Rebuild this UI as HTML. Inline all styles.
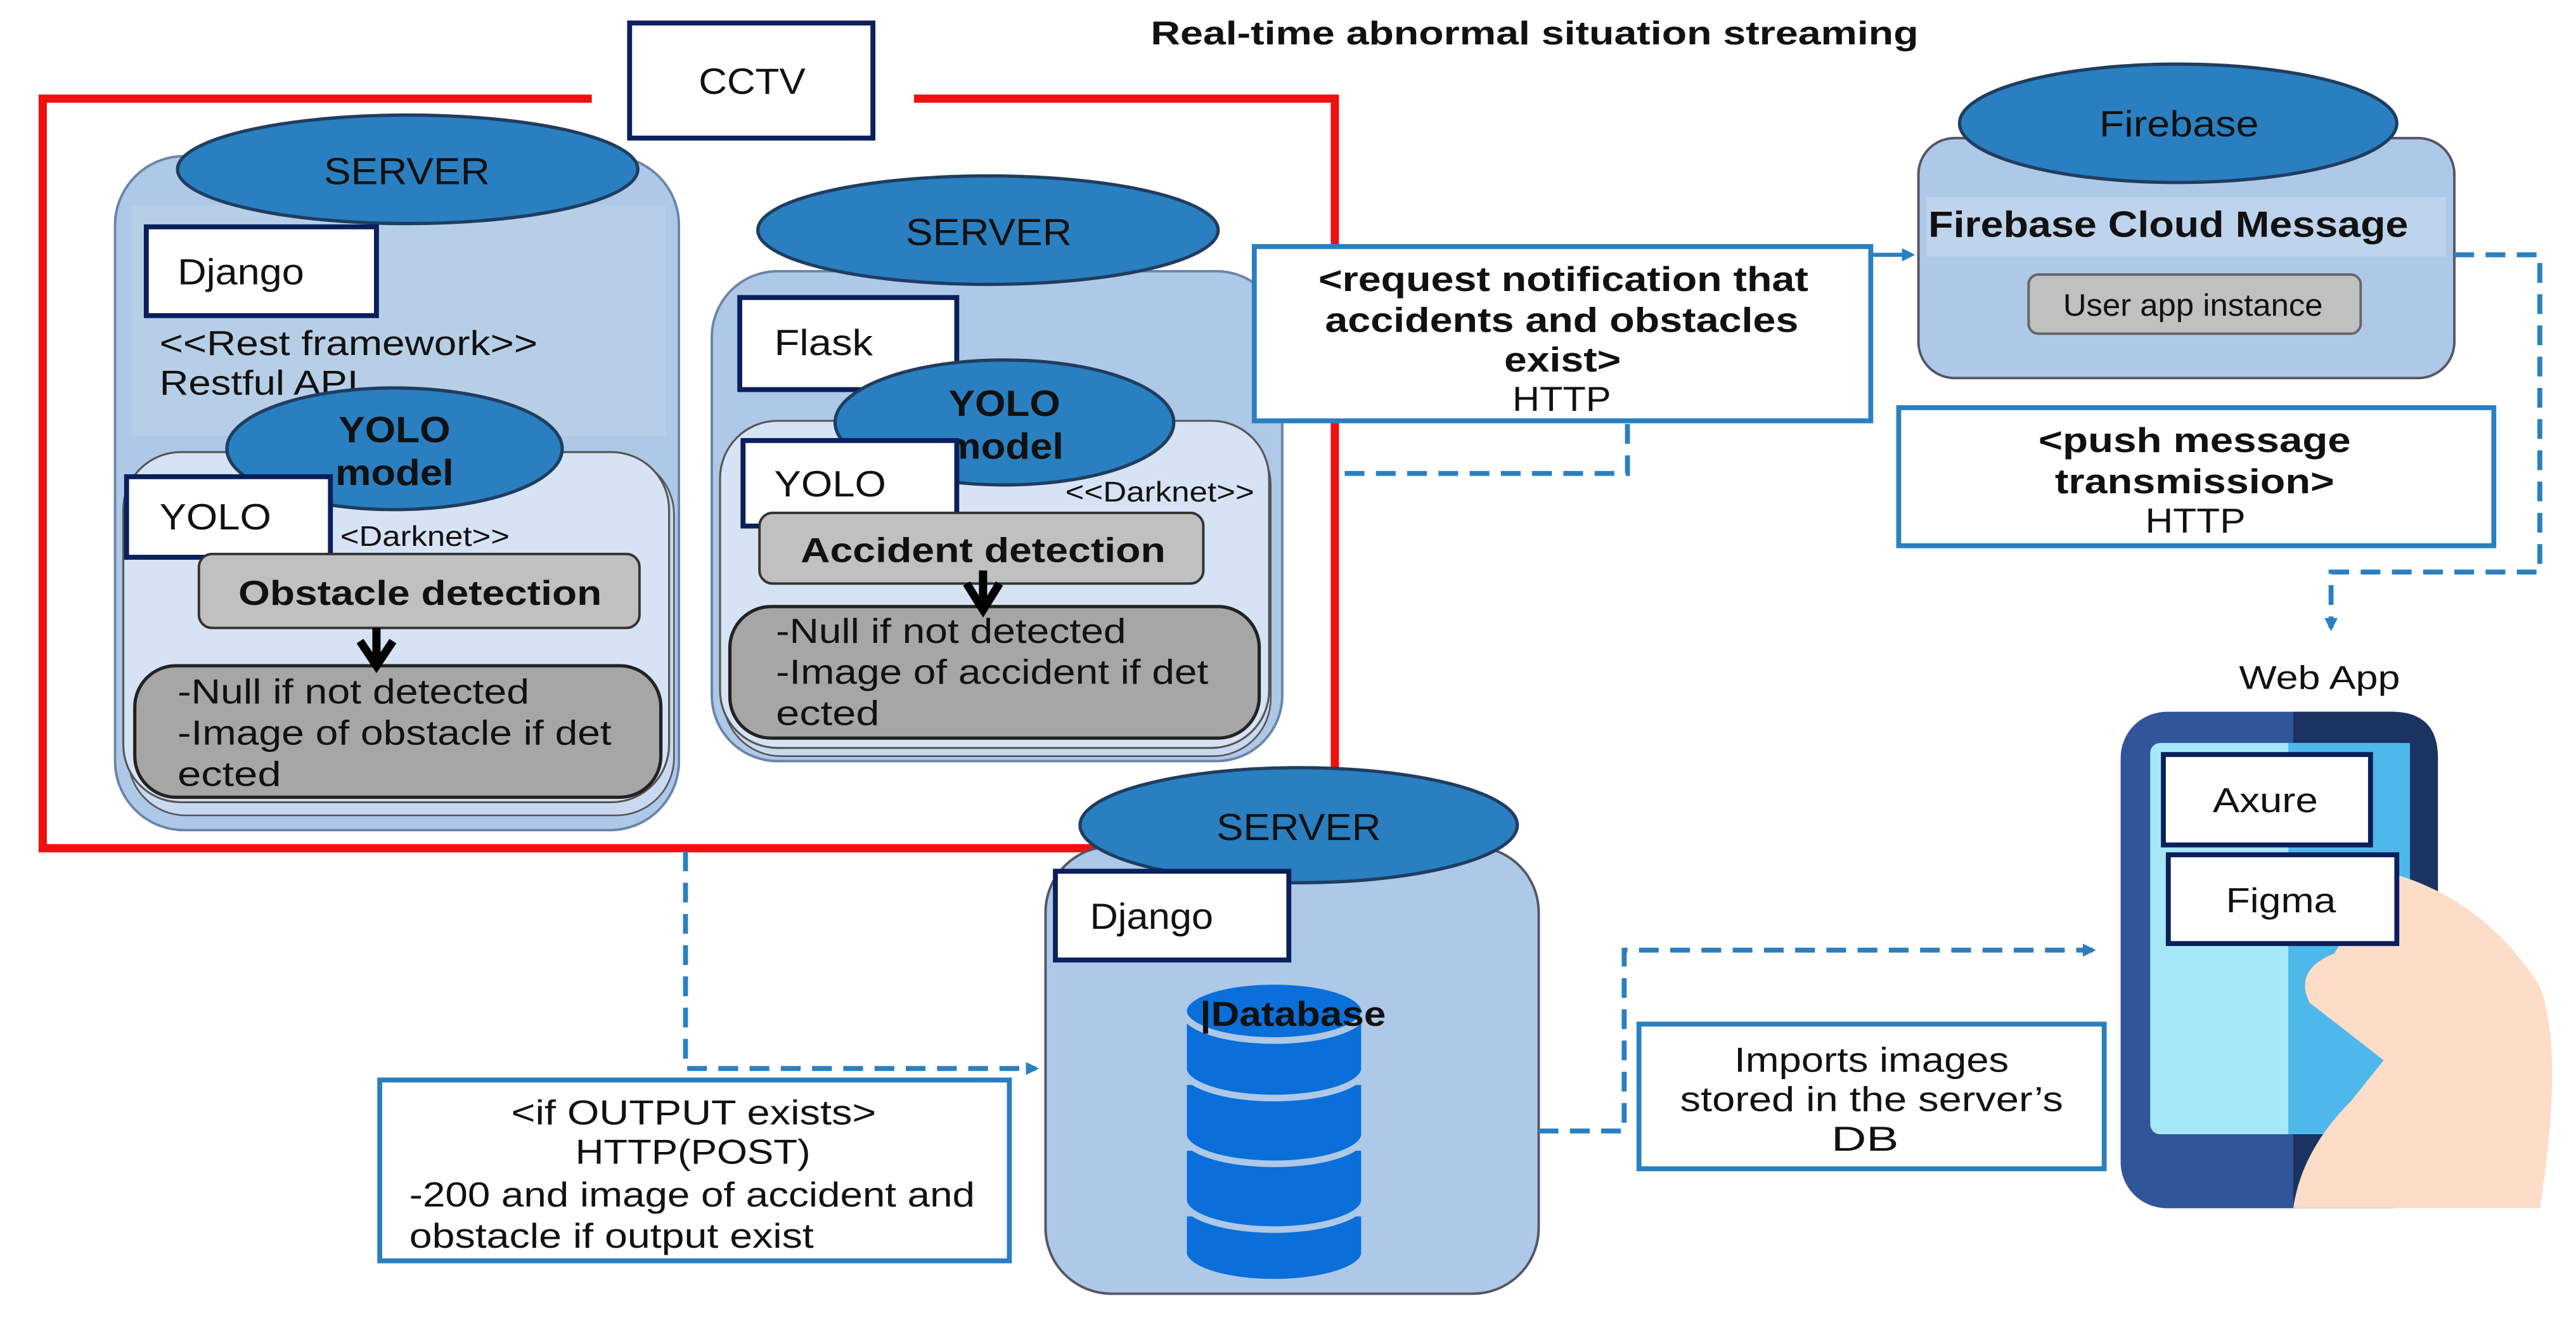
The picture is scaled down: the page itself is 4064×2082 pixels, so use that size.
<!DOCTYPE html>
<html><head><meta charset="utf-8"><style>
html,body{margin:0;padding:0;background:#fff;}
svg{display:block;}
text{font-family:"Liberation Sans",sans-serif;fill:#111;}
</style></head><body>
<svg width="4064" height="2082" viewBox="0 0 1567 803" preserveAspectRatio="none" xmlns="http://www.w3.org/2000/svg">
<defs>
<marker id="ah" markerWidth="8" markerHeight="8" refX="6" refY="4" orient="auto" markerUnits="userSpaceOnUse"><path d="M0,0 L8,4 L0,8 z" fill="#2a7fc0"/></marker>
</defs>
<rect width="1567" height="803" fill="#fff"/>
<text x="700" y="27" font-size="20" font-weight="bold" textLength="467" lengthAdjust="spacingAndGlyphs">Real-time abnormal situation streaming</text>

<!-- red frame -->
<path d="M360,60 H26 V516 H812 V60 H556" fill="none" stroke="#f01010" stroke-width="5"/>
<rect x="383" y="14" width="148" height="70" fill="#fff" stroke="#0a1f5c" stroke-width="3"/>
<text x="425" y="57" font-size="22" textLength="65" lengthAdjust="spacingAndGlyphs">CCTV</text>

<!-- left server -->
<rect x="70" y="95" width="343" height="410" rx="42" fill="#aec8e8" stroke="#6b84a8" stroke-width="1.5"/>
<rect x="80" y="125" width="325" height="140" fill="#b6cfe6"/>
<ellipse cx="248" cy="103" rx="140" ry="33" fill="#2a7fc0" stroke="#1f3d60" stroke-width="2"/>
<text x="197" y="112" font-size="23" textLength="101" lengthAdjust="spacingAndGlyphs">SERVER</text>
<rect x="89" y="138" width="140" height="54" fill="#fff" stroke="#0a1f5c" stroke-width="3"/>
<text x="108" y="173" font-size="22" textLength="77" lengthAdjust="spacingAndGlyphs">Django</text>
<text x="97" y="216" font-size="21" textLength="230" lengthAdjust="spacingAndGlyphs">&lt;&lt;Rest framework&gt;&gt;</text>
<text x="97" y="240" font-size="21" textLength="121" lengthAdjust="spacingAndGlyphs">Restful API</text>
<rect x="78" y="278" width="332" height="218" rx="35" fill="#c9daf0" stroke="#555" stroke-width="1"/>
<rect x="75" y="275" width="332" height="213" rx="35" fill="#d6e3f4" stroke="#555" stroke-width="1.2"/>
<ellipse cx="240" cy="273" rx="102" ry="37" fill="#2a7fc0" stroke="#1f3d60" stroke-width="2"/>
<text x="240" y="269" font-size="22" font-weight="bold" text-anchor="middle" textLength="68" lengthAdjust="spacingAndGlyphs">YOLO</text>
<text x="240" y="295" font-size="22" font-weight="bold" text-anchor="middle" textLength="72" lengthAdjust="spacingAndGlyphs">model</text>
<rect x="77" y="290" width="124" height="49" fill="#fff" stroke="#0a1f5c" stroke-width="3"/>
<text x="97" y="322" font-size="22" textLength="68" lengthAdjust="spacingAndGlyphs">YOLO</text>
<text x="207" y="332" font-size="17" textLength="103" lengthAdjust="spacingAndGlyphs">&lt;Darknet&gt;&gt;</text>
<rect x="121" y="337" width="268" height="45" rx="8" fill="#c0c0c0" stroke="#333" stroke-width="1.5"/>
<text x="145" y="368" font-size="21" font-weight="bold" textLength="221" lengthAdjust="spacingAndGlyphs">Obstacle detection</text>
<rect x="82" y="405" width="320" height="80" rx="25" fill="#a6a6a6" stroke="#222" stroke-width="2"/>
<path d="M229,382 V404 M219,390 L229,405 L239,390" stroke="#000" stroke-width="5" fill="none"/>
<text x="108" y="428" font-size="21" textLength="214" lengthAdjust="spacingAndGlyphs">-Null  if not detected</text>
<text x="108" y="453" font-size="21" textLength="264" lengthAdjust="spacingAndGlyphs">-Image of obstacle if det</text>
<text x="108" y="478" font-size="21" textLength="63" lengthAdjust="spacingAndGlyphs">ected</text>

<!-- middle server -->
<rect x="433" y="165" width="347" height="298" rx="40" fill="#aec8e8" stroke="#6b84a8" stroke-width="1.5"/>
<ellipse cx="601" cy="140" rx="140" ry="33" fill="#2a7fc0" stroke="#1f3d60" stroke-width="2"/>
<text x="551" y="149" font-size="23" textLength="101" lengthAdjust="spacingAndGlyphs">SERVER</text>
<rect x="450" y="181" width="132" height="56" fill="#fff" stroke="#0a1f5c" stroke-width="3"/>
<text x="471" y="216" font-size="22" textLength="60" lengthAdjust="spacingAndGlyphs">Flask</text>
<rect x="440" y="260" width="333" height="200" rx="35" fill="#c9daf0" stroke="#555" stroke-width="1"/>
<rect x="438" y="256" width="334" height="199" rx="35" fill="#d6e3f4" stroke="#555" stroke-width="1.2"/>
<ellipse cx="611" cy="257" rx="103" ry="38" fill="#2a7fc0" stroke="#1f3d60" stroke-width="2"/>
<text x="611" y="253" font-size="22" font-weight="bold" text-anchor="middle" textLength="68" lengthAdjust="spacingAndGlyphs">YOLO</text>
<text x="611" y="279" font-size="22" font-weight="bold" text-anchor="middle" textLength="72" lengthAdjust="spacingAndGlyphs">model</text>
<rect x="452" y="268" width="130" height="52" fill="#fff" stroke="#0a1f5c" stroke-width="3"/>
<text x="471" y="302" font-size="22" textLength="68" lengthAdjust="spacingAndGlyphs">YOLO</text>
<text x="648" y="305" font-size="17" textLength="115" lengthAdjust="spacingAndGlyphs">&lt;&lt;Darknet&gt;&gt;</text>
<rect x="462" y="312" width="270" height="43" rx="8" fill="#c0c0c0" stroke="#333" stroke-width="1.5"/>
<text x="487" y="342" font-size="21" font-weight="bold" textLength="222" lengthAdjust="spacingAndGlyphs">Accident detection</text>
<rect x="444" y="369" width="322" height="80" rx="25" fill="#a6a6a6" stroke="#222" stroke-width="2"/>
<path d="M598,347 V370 M588,355 L598,371 L608,355" stroke="#000" stroke-width="5" fill="none"/>
<text x="472" y="391" font-size="21" textLength="213" lengthAdjust="spacingAndGlyphs">-Null  if not detected</text>
<text x="472" y="416" font-size="21" textLength="263" lengthAdjust="spacingAndGlyphs">-Image of accident if det</text>
<text x="472" y="441" font-size="21" textLength="63" lengthAdjust="spacingAndGlyphs">ected</text>

<!-- request box -->
<rect x="763" y="150" width="375" height="106" fill="#fff" stroke="#2a7fc0" stroke-width="3"/>
<text x="802" y="177" font-size="21" font-weight="bold" textLength="298" lengthAdjust="spacingAndGlyphs">&lt;request notification that</text>
<text x="806" y="202" font-size="21" font-weight="bold" textLength="288" lengthAdjust="spacingAndGlyphs">accidents and obstacles</text>
<text x="915" y="226" font-size="21" font-weight="bold" textLength="71" lengthAdjust="spacingAndGlyphs">exist&gt;</text>
<text x="920" y="250" font-size="21" textLength="60" lengthAdjust="spacingAndGlyphs">HTTP</text>
<path d="M990,258 V288 H813" fill="none" stroke="#2a7fc0" stroke-width="3" stroke-dasharray="12,7"/>
<path d="M1138,155 H1163" stroke="#2a7fc0" stroke-width="2.5" marker-end="url(#ah)"/>

<!-- firebase -->
<rect x="1167" y="84" width="326" height="146" rx="22" fill="#aec8e8" stroke="#556" stroke-width="1.5"/>
<rect x="1172" y="120" width="316" height="36" fill="#bed4ec"/>
<ellipse cx="1325" cy="75" rx="133" ry="36" fill="#2a7fc0" stroke="#1f3d60" stroke-width="2"/>
<text x="1277" y="83" font-size="22" textLength="97" lengthAdjust="spacingAndGlyphs">Firebase</text>
<text x="1173" y="144" font-size="22" font-weight="bold" textLength="292" lengthAdjust="spacingAndGlyphs">Firebase Cloud Message</text>
<rect x="1234" y="167" width="202" height="36" rx="6" fill="#c0c0c0" stroke="#666" stroke-width="1.5"/>
<text x="1255" y="192" font-size="19" fill="#333" textLength="158" lengthAdjust="spacingAndGlyphs">User app instance</text>
<path d="M1493,155 H1545 V348 H1418 V382" fill="none" stroke="#2a7fc0" stroke-width="3" stroke-dasharray="12,7" marker-end="url(#ah)"/>
<rect x="1155" y="248" width="362" height="84" fill="#fff" stroke="#2a7fc0" stroke-width="3"/>
<text x="1240" y="275" font-size="21" font-weight="bold" textLength="190" lengthAdjust="spacingAndGlyphs">&lt;push message</text>
<text x="1250" y="300" font-size="21" font-weight="bold" textLength="170" lengthAdjust="spacingAndGlyphs">transmission&gt;</text>
<text x="1305" y="324" font-size="21" textLength="61" lengthAdjust="spacingAndGlyphs">HTTP</text>

<!-- web app -->
<text x="1362" y="419" font-size="20" textLength="98" lengthAdjust="spacingAndGlyphs">Web App</text>
<rect x="1290" y="433" width="193" height="302" rx="28" fill="#30559a"/>
<path d="M1395,433 H1455 Q1483,433 1483,461 V707 Q1483,735 1455,735 H1395 Z" fill="#1b3360"/>
<rect x="1308" y="452" width="158" height="238" rx="6" fill="#a6e8f7"/>
<rect x="1392" y="452" width="74" height="238" fill="#4fb8ea"/>
<path d="M1450,530 Q1510,545 1545,600 Q1560,640 1545,735 H1395 Q1400,700 1430,670 L1450,645 L1405,610 Q1395,590 1420,580 Z" fill="#fddcc8"/>
<rect x="1316" y="459" width="126" height="55" fill="#fff" stroke="#0a1f5c" stroke-width="3"/>
<text x="1346" y="494" font-size="21" textLength="64" lengthAdjust="spacingAndGlyphs">Axure</text>
<rect x="1319" y="520" width="139" height="54" fill="#fff" stroke="#0a1f5c" stroke-width="3"/>
<text x="1354" y="555" font-size="21" textLength="67" lengthAdjust="spacingAndGlyphs">Figma</text>

<!-- bottom server -->
<rect x="636" y="515" width="300" height="272" rx="40" fill="#aec8e8" stroke="#556" stroke-width="1.5"/>
<ellipse cx="790" cy="502" rx="133" ry="35" fill="#2a7fc0" stroke="#1f3d60" stroke-width="2"/>
<text x="740" y="511" font-size="23" textLength="100" lengthAdjust="spacingAndGlyphs">SERVER</text>
<rect x="642" y="530" width="142" height="54" fill="#fff" stroke="#0a1f5c" stroke-width="3"/>
<text x="663" y="565" font-size="22" textLength="75" lengthAdjust="spacingAndGlyphs">Django</text>
<g fill="#0a6fd8" stroke="#aec8e8" stroke-width="4">
<path d="M720,740 V762 A55,18 0 0 0 830,762 V740"/>
<path d="M720,700 V730 A55,18 0 0 0 830,730 V700"/>
<path d="M720,660 V690 A55,18 0 0 0 830,690 V660"/>
<path d="M720,615 V650 A55,18 0 0 0 830,650 V615"/>
<ellipse cx="775" cy="615" rx="55" ry="18"/>
</g>
<text x="730" y="624" font-size="21" font-weight="bold" textLength="113" lengthAdjust="spacingAndGlyphs">|Database</text>

<path d="M417,518 V650 H630" fill="none" stroke="#2a7fc0" stroke-width="3" stroke-dasharray="12,7" marker-end="url(#ah)"/>
<rect x="231" y="657" width="383" height="110" fill="#fff" stroke="#2a7fc0" stroke-width="3"/>
<text x="311" y="684" font-size="21" textLength="222" lengthAdjust="spacingAndGlyphs">&lt;if OUTPUT  exists&gt;</text>
<text x="350" y="708" font-size="21" textLength="143" lengthAdjust="spacingAndGlyphs">HTTP(POST)</text>
<text x="249" y="734" font-size="21" textLength="344" lengthAdjust="spacingAndGlyphs">-200 and image of accident and</text>
<text x="249" y="759" font-size="21" textLength="246" lengthAdjust="spacingAndGlyphs">obstacle if output exist</text>

<path d="M936,688 H988 V578 H1273" fill="none" stroke="#2a7fc0" stroke-width="3" stroke-dasharray="12,7" marker-end="url(#ah)"/>
<rect x="997" y="623" width="283" height="88" fill="#fff" stroke="#2a7fc0" stroke-width="3"/>
<text x="1055" y="652" font-size="21" textLength="167" lengthAdjust="spacingAndGlyphs">Imports images</text>
<text x="1022" y="676" font-size="21" textLength="233" lengthAdjust="spacingAndGlyphs">stored in the server’s</text>
<text x="1114" y="700" font-size="21" textLength="41" lengthAdjust="spacingAndGlyphs">DB</text>
</svg>
</body></html>
